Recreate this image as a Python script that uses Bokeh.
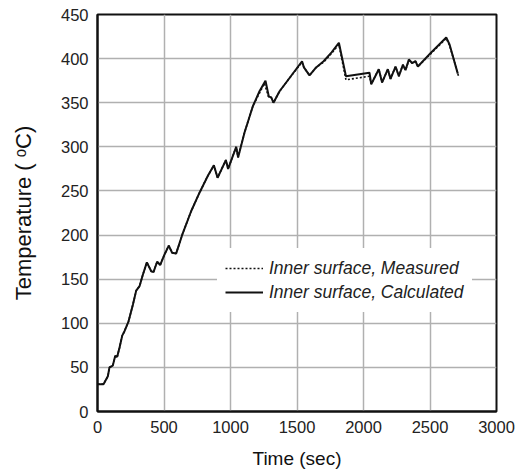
from bokeh.plotting import figure
from bokeh.models import Range1d, FixedTicker, Legend, LegendItem
from bokeh.embed import file_html
from bokeh.resources import INLINE

# Calculated inner-surface temperature
calc_t = [0, 45, 78, 90, 115, 133, 148, 165, 186, 203, 233, 266, 291, 316, 341, 371,
          404, 421, 449, 471, 504, 536, 561, 591, 641, 704, 767, 829, 875, 903, 965,
          982, 1043, 1057, 1105, 1168, 1218, 1263, 1288, 1306, 1323, 1369, 1444, 1538,
          1552, 1594, 1644, 1700, 1760, 1815, 1868, 2045, 2058, 2115, 2140, 2183, 2203,
          2241, 2266, 2296, 2316, 2341, 2365, 2391, 2409, 2509, 2622, 2647, 2709]
calc_T = [31, 31, 40, 50, 52, 63, 62, 72, 86, 91, 102, 121, 137, 142, 155, 169,
          159, 158, 170, 166, 178, 188, 180, 179, 202, 227, 248, 267, 279, 265, 285,
          275, 300, 288, 316, 346, 363, 375, 357, 356, 350, 363, 378, 397,
          390, 381, 390, 397, 407, 418, 380, 384, 371, 388, 373, 388, 377,
          391, 380, 393, 387, 399, 395, 397, 391, 407, 424, 416, 383]

# Measured inner-surface temperature
meas_t = [0, 45, 78, 90, 115, 133, 148, 165, 186, 203, 233, 266, 291, 316, 341, 371,
          404, 421, 449, 471, 504, 536, 561, 591, 641, 704, 767, 829, 875, 903, 965,
          982, 1043, 1057, 1105, 1168, 1218, 1255, 1285, 1306, 1323, 1369, 1444, 1538,
          1552, 1594, 1644, 1700, 1760, 1815, 1868, 2045, 2058, 2115, 2140, 2183, 2203,
          2241, 2266, 2296, 2316, 2341, 2365, 2391, 2409, 2509, 2622, 2647, 2715]
meas_T = [31, 31, 40, 50, 52, 63, 62, 72, 86, 91, 102, 121, 137, 142, 155, 169,
          159, 158, 170, 166, 178, 188, 180, 179, 202, 227, 248, 267, 279, 265, 285,
          275, 300, 288, 316, 346, 361, 372, 357, 356, 350, 363, 378, 396,
          390, 381, 390, 396, 406, 416, 376, 380, 371, 388, 373, 388, 377,
          391, 380, 393, 387, 398, 395, 397, 391, 406, 423, 415, 380]

x_ticks = [0, 500, 1000, 1500, 2000, 2500, 3000]
y_ticks = [0, 50, 100, 150, 200, 250, 300, 350, 400, 450]

p = figure(width=518, height=472, output_backend="svg", toolbar_location=None,
           x_range=Range1d(0, 3000), y_range=Range1d(0, 450),
           min_border_left=97, min_border_right=22, min_border_top=14, min_border_bottom=61)

p.background_fill_color = "white"
p.border_fill_color = "white"
p.outline_line_color = "#111111"
p.outline_line_width = 2

for ax in (p.xaxis[0], p.yaxis[0]):
    ax.major_tick_out = 0
    ax.major_tick_in = 0
    ax.minor_tick_out = 0
    ax.minor_tick_in = 0
    ax.axis_line_color = "#111111"
    ax.axis_line_width = 2
    ax.major_label_text_font = "Liberation Sans"
    ax.major_label_text_font_size = "16.5px"
    ax.major_label_text_color = "#222222"
    ax.axis_label_text_font = "Liberation Sans"
    ax.axis_label_text_font_style = "normal"
    ax.axis_label_text_color = "#111111"
    ax.major_label_standoff = 9

p.xaxis[0].ticker = FixedTicker(ticks=x_ticks)
p.yaxis[0].ticker = FixedTicker(ticks=y_ticks)
p.xaxis[0].axis_label = "Time (sec)"
p.yaxis[0].axis_label = "Temperature ( ᵒC)"
p.xaxis[0].axis_label_text_font_size = "19px"
p.yaxis[0].axis_label_text_font_size = "22px"
p.xaxis[0].axis_label_standoff = 12
p.yaxis[0].axis_label_standoff = 22

p.grid.grid_line_color = "#b0b0b0"
p.grid.grid_line_width = 1.5
p.xgrid.ticker = FixedTicker(ticks=x_ticks)
p.ygrid.ticker = FixedTicker(ticks=y_ticks)

r_meas = p.line(meas_t, meas_T, line_color="#111111", line_width=1.6, line_dash="2 2")
r_calc = p.line(calc_t, calc_T, line_color="#111111", line_width=2)

legend = Legend(items=[LegendItem(label="Inner surface, Measured", renderers=[r_meas]),
                       LegendItem(label="Inner surface, Calculated", renderers=[r_calc])],
                location=(120, 99))
legend.background_fill_color = "white"
legend.background_fill_alpha = 1
legend.border_line_alpha = 0
legend.label_text_font = "Liberation Sans"
legend.label_text_font_style = "italic"
legend.label_text_font_size = "17.5px"
legend.label_text_color = "#222222"
legend.glyph_width = 38
legend.glyph_height = 24
legend.label_height = 24
legend.label_standoff = 6
legend.padding = 8
legend.spacing = 0
legend.margin = 0
p.add_layout(legend, "center")

open("out.html", "w").write(file_html(p, INLINE))
